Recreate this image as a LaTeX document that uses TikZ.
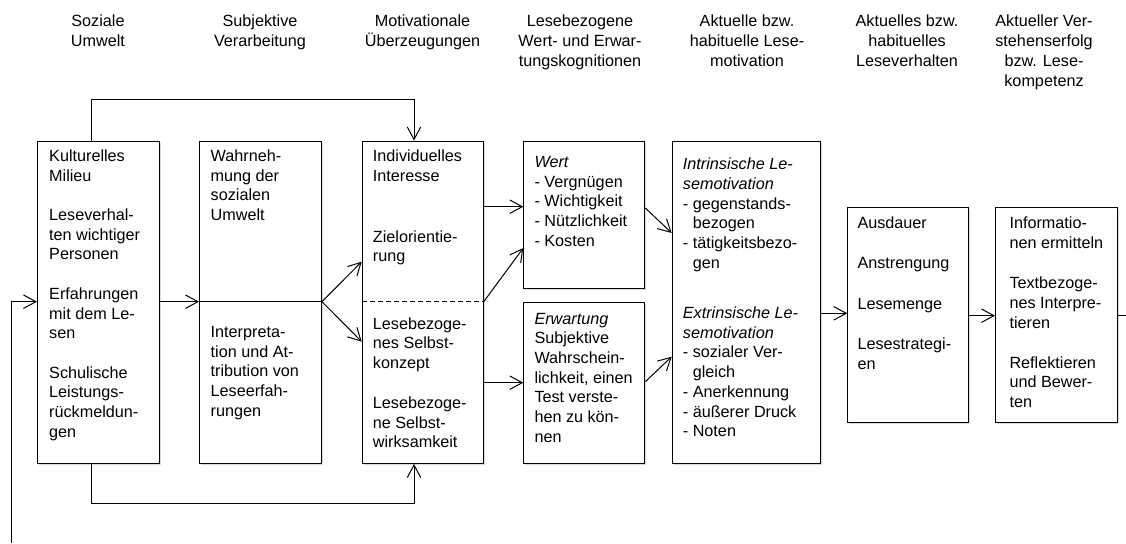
\documentclass[tikz,border=0pt]{standalone}
\usepackage{fontspec}
\setmainfont{Liberation Sans}
\usetikzlibrary{arrows.meta,shadows}
\newcommand{\myBoxFont}{\fontsize{16.2}{19.7}\selectfont}
\newcommand{\myHeadFont}{\fontsize{16.2}{20.1}\selectfont}
\newcommand{\myBoxText}[1]{\parbox[t]{160pt}{\raggedright\strut #1}}
\newcommand{\myHeadText}[1]{\parbox[t]{170pt}{\centering\strut #1}}
\tikzset{
  box/.style={draw, line width=1pt, fill=white, inner sep=0pt, anchor=north west,
    drop shadow={shadow xshift=1.5pt, shadow yshift=-1.5pt, fill=black, opacity=0.15}},
  txt/.style={anchor=north west, inner sep=0pt, font=\myBoxFont},
  head/.style={anchor=north, inner sep=0pt, font=\myHeadFont},
  arr/.style={line width=1pt, -{Straight Barb[length=12.5pt,width=13.5pt,line width=1pt]}},
  ln/.style={line width=1pt},
  dividerdash/.style={line width=1pt, dash pattern=on 5pt off 3pt}
}
\begin{document}
\begin{tikzpicture}[x=1pt,y=-1pt]
\useasboundingbox (0,0) rectangle (1126,543);

% headers
\node[head] (h1) at (98,12.3) {\myHeadText{Soziale\\Umwelt}};
\node[head] (h2) at (260,12.3) {\myHeadText{Subjektive\\Verarbeitung}};
\node[head] (h3) at (422.5,12.3) {\myHeadText{Motivationale\\Überzeugungen}};
\node[head] (h4) at (580,12.3) {\myHeadText{Lesebezogene\\Wert- und Erwar-\\tungskognitionen}};
\node[head] (h5) at (747,12.3) {\myHeadText{Aktuelle bzw.\\habituelle Lese-\\motivation}};
\node[head] (h6) at (907,12.3) {\myHeadText{Aktuelles bzw.\\habituelles\\Leseverhalten}};
\node[head] (h7) at (1044,12.3) {\myHeadText{Aktueller Ver-\\stehenserfolg\\bzw. Lese-\\kompetenz}};

% boxes
\node[box, minimum width=122pt, minimum height=322.5pt] (b1) at (37,140.5) {};
\node[box, minimum width=122pt, minimum height=322.5pt] (b2) at (199,140.5) {};
\node[box, minimum width=121pt, minimum height=322.5pt] (b3) at (361.7,140.5) {};
\node[box, minimum width=121pt, minimum height=147.5pt] (b4a) at (523.3,140.5) {};
\node[box, minimum width=121pt, minimum height=161pt] (b4b) at (523.3,302.3) {};
\node[box, minimum width=148.3pt, minimum height=322.8pt] (b5) at (671.7,140.5) {};
\node[box, minimum width=121pt, minimum height=215pt] (b6) at (847.3,207.3) {};
\node[box, minimum width=121.7pt, minimum height=215pt] (b7) at (995,207.3) {};

% dividers
\coordinate (d2) at (0,301.7);
\draw[ln] (b2.west |- d2) -- (b2.east |- d2);
\draw[dividerdash] (b3.west |- d2) -- (b3.east |- d2);

% box texts
\node[txt] (t1) at (49,147.5) {\myBoxText{Kulturelles\\Milieu\\[19.7pt]Leseverhal-\\ten wichtiger\\Personen\\[19.7pt]Erfahrungen\\mit dem Le-\\sen\\[19.7pt]Schulische\\Leistungs-\\rückmeldun-\\gen}};
\node[txt] (t2a) at (210.5,147.5) {\myBoxText{Wahrneh-\\mung der\\sozialen\\Umwelt}};
\node[txt] (t2b) at (210.5,323.5) {\myBoxText{Interpreta-\\tion und At-\\tribution von\\Leseerfah-\\rungen}};
\node[txt] (t3a) at (372.7,147.8) {\myBoxText{Individuelles\\Interesse\\[41pt]Zielorientie-\\rung}};
\node[txt] (t3b) at (372.7,315.2) {\myBoxText{Lesebezoge-\\nes Selbst-\\konzept\\[20.3pt]Lesebezoge-\\ne Selbst-\\wirksamkeit}};
\node[txt] (t4a) at (534.3,153.5) {\myBoxText{\textit{Wert}\\- Vergnügen\\- Wichtigkeit\\- Nützlichkeit\\- Kosten}};
\node[txt] (t4b) at (534.3,310.1) {\myBoxText{\textit{Erwartung}\\Subjektive\\Wahrschein-\\lichkeit, einen\\Test verste-\\hen zu kön-\\nen}};
\node[txt] (t5) at (682.7,155.8) {\myBoxText{\textit{Intrinsische Le-}\\\textit{semotivation}\\- gegenstands-\\\phantom{- }bezogen\\- tätigkeitsbezo-\\\phantom{- }gen\\[30.6pt]\textit{Extrinsische Le-}\\\textit{semotivation}\\- sozialer Ver-\\\phantom{- }gleich\\- Anerkennung\\- äußerer Druck\\- Noten}};
\node[txt] (t6) at (857.3,214.5) {\myBoxText{Ausdauer\\[20.8pt]Anstrengung\\[20.8pt]Lesemenge\\[20.8pt]Lesestrategi-\\en}};
\node[txt] (t7) at (1009.3,214.5) {\myBoxText{Informatio-\\nen ermitteln\\[20.9pt]Textbezoge-\\nes Interpre-\\tieren\\[20.3pt]Reflektieren\\und Bewer-\\ten}};

% loops from b1 to b3
\coordinate (t1c) at (91.7,99);
\coordinate (t2c) at (414,99);
\draw[arr] (t1c |- b1.north) -- (t1c) -- (t2c) -- (t2c |- b3.north);
\coordinate (u1c) at (91.7,503);
\coordinate (u2c) at (414,503);
\draw[arr] (u1c |- b1.south) -- (u1c) -- (u2c) -- (u2c |- b3.south);

% feedback
\coordinate (fbB) at (11.7,543);
\coordinate (fbL) at (11.7,301.7);
\draw[arr] (fbB) -- (fbL) -- (b1.west |- fbL);
\coordinate (fbR) at (1126,315.7);
\draw[ln] (b7.east |- fbR) -- (fbR);

% main arrows
\draw[arr] (b1.east |- d2) -- (b2.west |- d2);
\draw[arr] (b2.east |- d2) -- (b3.west |- 0,261.7);
\draw[arr] (b2.east |- d2) -- (b3.west |- 0,341.7);
\draw[arr] (b3.east |- 0,206.7) -- (b4a.west |- 0,206.7);
\draw[arr] (b3.east |- d2) -- (b4a.west |- 0,248);
\draw[arr] (b3.east |- 0,382.7) -- (b4b.west |- 0,382.7);
\draw[arr] (b4a.east |- 0,208) -- (b5.west |- 0,233);
\draw[arr] (b4b.east |- 0,381.7) -- (b5.west |- 0,356.7);
\draw[arr] (b5.east |- 0,313.3) -- (b6.west |- 0,313.3);
\draw[arr] (b6.east |- 0,315.7) -- (b7.west |- 0,315.7);
\end{tikzpicture}
\end{document}
